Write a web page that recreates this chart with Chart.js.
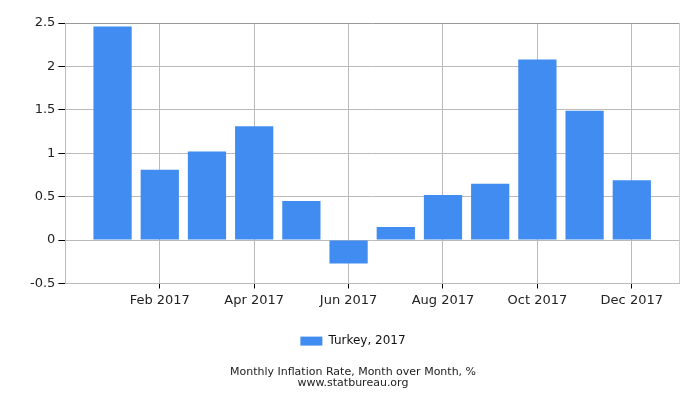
<!DOCTYPE html>
<html>
<head>
<meta charset="utf-8">
<script src="https://cdn.jsdelivr.net/npm/chart.js@4"></script>
<style>
  html, body { margin: 0; padding: 0; background: #fff; }
  #wrap { width: 700px; height: 400px; }
</style>
</head>
<body>
<div id="wrap"><canvas id="inflationChart"></canvas></div>
<script>
const months = ['Jan', 'Feb', 'Mar', 'Apr', 'May', 'Jun', 'Jul', 'Aug', 'Sep', 'Oct', 'Nov', 'Dec'];
const inflation = [2.46, 0.81, 1.02, 1.31, 0.45, -0.27, 0.15, 0.52, 0.65, 2.08, 1.49, 0.69];
const yTicks = [-0.5, 0, 0.5, 1, 1.5, 2, 2.5];

document.addEventListener('DOMContentLoaded', function() {
    Chart.defaults.font.family = 'DejaVu Sans';
    Chart.defaults.color = '#222';

    // one empty slot each side so the axis runs Dec 2016 .. Jan 2018
    const labels = [''].concat(months.map(m => m + ' 2017'), ['']);
    const values = [null].concat(inflation, [null]);
    const showTick = i => i >= 2 && i <= 12 && i % 2 === 0;

    const ctx = document.getElementById('inflationChart').getContext('2d');
    new Chart(ctx, {
        type: 'bar',
        data: {
            labels: labels,
            datasets: [{
                label: 'Turkey, 2017',
                data: values,
                backgroundColor: '#418cf0',
                borderWidth: 0,
                categoryPercentage: 1,
                barPercentage: 0.81
            }]
        },
        options: {
            responsive: true,
            maintainAspectRatio: false,
            animation: false,
            layout: { padding: { left: 27, right: 21, top: 23, bottom: 12 } },
            scales: {
                x: {
                    offset: false,
                    afterFit: axis => { axis.height += 11; },
                    grid: {
                        offset: false,
                        color: c => (c.index === 13 ? '#ccc' : (showTick(c.index) ? '#bbb' : 'rgba(0,0,0,0)')),
                        tickColor: c => (showTick(c.index) ? '#000' : 'rgba(0,0,0,0)'),
                        tickLength: 5
                    },
                    border: { color: '#bbb' },
                    ticks: {
                        autoSkip: false,
                        maxRotation: 0,
                        padding: 4,
                        font: { size: 13 },
                        callback: function(value, index) {
                            return showTick(index) ? labels[index] : '';
                        }
                    }
                },
                y: {
                    min: yTicks[0],
                    max: yTicks[yTicks.length - 1],
                    afterBuildTicks: axis => { axis.ticks = yTicks.map(v => ({ value: v })); },
                    grid: {
                        color: c => (c.tick && c.tick.value === 2.5 ? '#999' : '#bbb'),
                        tickColor: '#000',
                        tickLength: 7
                    },
                    border: { color: '#bbb' },
                    ticks: {
                        padding: 3,
                        font: { size: 13 },
                        callback: v => String(v)
                    }
                }
            },
            plugins: {
                legend: {
                    position: 'bottom',
                    labels: {
                        boxWidth: 22,
                        boxHeight: 9,
                        padding: 12,
                        font: { size: 12 },
                        color: '#111'
                    }
                },
                title: {
                    display: true,
                    position: 'bottom',
                    text: ['Monthly Inflation Rate, Month over Month, %', 'www.statbureau.org'],
                    color: '#222',
                    font: { size: 11, weight: 'normal', lineHeight: 0.95 },
                    padding: { top: 10, bottom: 0 }
                },
                tooltip: { enabled: false }
            }
        }
    });
});
</script>
</body>
</html>
